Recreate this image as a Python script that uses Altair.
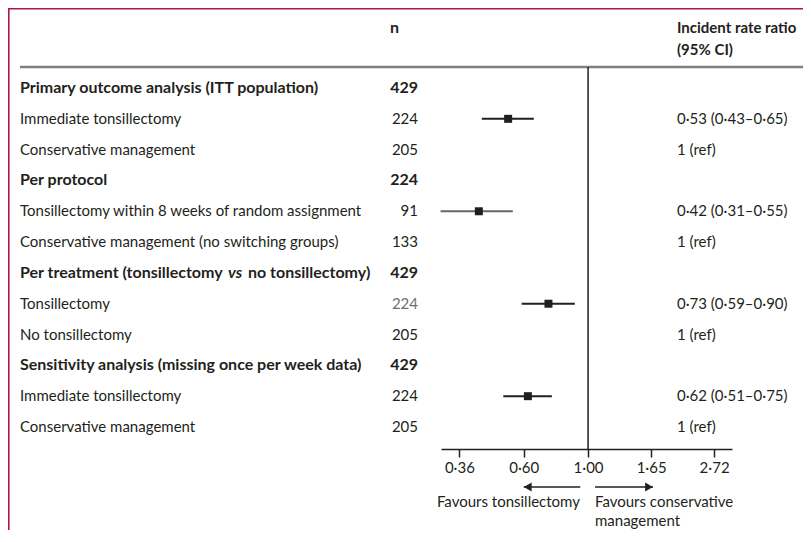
import altair as alt
import pandas as pd

# ---------------- data ----------------
labels = [
    "Primary outcome analysis (ITT population)",
    "Immediate tonsillectomy",
    "Conservative management",
    "Per protocol",
    "Tonsillectomy within 8 weeks of random assignment",
    "Conservative management (no switching groups)",
    "Per treatment (tonsillectomy vs no tonsillectomy)",
    "Tonsillectomy",
    "No tonsillectomy",
    "Sensitivity analysis (missing once per week data)",
    "Immediate tonsillectomy",
    "Conservative management",
]
# the one label with an italic "vs", drawn in three pieces
vs_row = 6
vs_parts = ["Per treatment (tonsillectomy", "vs", "no tonsillectomy)"]
n_values = [429, 224, 205, 224, 91, 133, 429, 224, 205, 429, 224, 205]
is_header = [1, 0, 0, 1, 0, 0, 1, 0, 0, 1, 0, 0]
irr_text = ["", "0·53 (0·43–0·65)", "1 (ref)", "", "0·42 (0·31–0·55)", "1 (ref)",
            "", "0·73 (0·59–0·90)", "1 (ref)", "", "0·62 (0·51–0·75)", "1 (ref)"]
estimate = [None, 0.53, None, None, 0.42, None, None, 0.73, None, None, 0.62, None]
ci_low = [None, 0.43, None, None, 0.31, None, None, 0.59, None, None, 0.51, None]
ci_high = [None, 0.65, None, None, 0.55, None, None, 0.90, None, None, 0.75, None]
tick_values = [0.36, 0.60, 1.00, 1.65, 2.72]
arrow_start = [0.94, 1.057]
arrow_end = [0.60, 1.675]

df = pd.DataFrame({
    "row": list(range(len(labels))),
    "label": labels,
    "n": n_values,
    "header": is_header,
    "irr": irr_text,
    "est": estimate,
    "lo": ci_low,
    "hi": ci_high,
})
forest = df.dropna(subset=["est"])

FONT = "Lato"
TXT = "#231f20"
FS = 15
FSB = 16

X_SCALE = alt.Scale(type="log", domain=[0.311, 3.136], range=[433, 724], nice=False)
Y_SCALE = alt.Scale(domain=[0, 11], range=[80, 419], nice=False, zero=False)
Y = alt.Y("row:Q", scale=Y_SCALE, axis=None)

base = alt.Chart(df)
bold_rows = base.transform_filter("datum.header == 1")
plain_rows = base.transform_filter("datum.header == 0")

label_bold = bold_rows.transform_filter(f"datum.row != {vs_row}").mark_text(
    align="left", baseline="middle", font=FONT, fontSize=FSB, fontWeight="bold", color=TXT
).encode(x=alt.value(12), y=Y, text="label:N")

vs_df = pd.DataFrame({"row": [vs_row] * 3, "part": vs_parts, "idx": [0, 1, 2]})
vs_base = alt.Chart(vs_df)
vs_a = vs_base.transform_filter("datum.idx == 0").mark_text(
    align="left", baseline="middle", font=FONT, fontSize=FSB, fontWeight="bold", color=TXT
).encode(x=alt.value(12), y=Y, text="part:N")
vs_b = vs_base.transform_filter("datum.idx == 1").mark_text(
    align="left", baseline="middle", font=FONT, fontSize=FSB, fontWeight="bold",
    fontStyle="italic", color=TXT
).encode(x=alt.value(220), y=Y, text="part:N")
vs_c = vs_base.transform_filter("datum.idx == 2").mark_text(
    align="left", baseline="middle", font=FONT, fontSize=FSB, fontWeight="bold", color=TXT
).encode(x=alt.value(240), y=Y, text="part:N")

label_plain = plain_rows.mark_text(align="left", baseline="middle", font=FONT, fontSize=FS,
                                   color=TXT).encode(x=alt.value(12), y=Y, text="label:N")

n_bold = bold_rows.mark_text(align="right", baseline="middle", font=FONT, fontSize=FSB,
                             fontWeight="bold", color=TXT).encode(x=alt.value(410), y=Y, text="n:Q")
n_plain = plain_rows.mark_text(align="right", baseline="middle", font=FONT, fontSize=FS).encode(
    x=alt.value(410), y=Y, text="n:Q",
    color=alt.condition("datum.row == 7", alt.value("#6d6e71"), alt.value(TXT)),
)

irr = base.mark_text(align="left", baseline="middle", font=FONT, fontSize=FS, color=TXT).encode(
    x=alt.value(669), y=Y, text="irr:N",
)

ci = alt.Chart(forest).mark_rule(strokeWidth=2).encode(
    x=alt.X("lo:Q", scale=X_SCALE, axis=alt.Axis(
        values=tick_values, title=None, grid=False, orient="bottom",
        labelExpr="replace(format(datum.value, '.2f'), '.', '·')",
        domainColor=TXT, domainWidth=1.5, tickColor=TXT, tickWidth=1.5, tickSize=8,
        labelFont=FONT, labelFontSize=FS, labelColor=TXT, labelPadding=3,
    )),
    x2="hi:Q", y=Y,
    color=alt.condition("datum.row == 4", alt.value("#666666"), alt.value(TXT)),
)

squares = alt.Chart(forest).mark_square(size=64, opacity=1, color=TXT).encode(
    x=alt.X("est:Q", scale=X_SCALE), y=Y,
)

ref_line = alt.Chart(pd.DataFrame({"v": [1.0]})).mark_rule(strokeWidth=1.5, color=TXT).encode(
    x=alt.X("v:Q", scale=X_SCALE), y=alt.value(59), y2=alt.value(441),
)

one = pd.DataFrame({"a": [0]})
header_rule = alt.Chart(one).mark_rule(strokeWidth=2.5, color="#808080").encode(
    x=alt.value(12), x2=alt.value(795), y=alt.value(59),
)

border_top = alt.Chart(one).mark_rule(strokeWidth=1.6, color="#b0163f").encode(
    x=alt.value(0), x2=alt.value(795), y=alt.value(0.8),
)
border_left = alt.Chart(one).mark_rule(strokeWidth=1.6, color="#b0163f").encode(
    x=alt.value(0.8), y=alt.value(0), y2=alt.value(530),
)

h_n = alt.Chart(one).mark_text(align="left", baseline="middle", font=FONT, fontSize=FSB,
                              fontWeight="bold", color=TXT, text="n").encode(x=alt.value(382), y=alt.value(20))
h_irr1 = alt.Chart(one).mark_text(align="left", baseline="middle", font=FONT, fontSize=FS,
                                 fontWeight="bold", color=TXT, text="Incident rate ratio").encode(x=alt.value(669), y=alt.value(20))
h_irr2 = alt.Chart(one).mark_text(align="left", baseline="middle", font=FONT, fontSize=FS,
                                 fontWeight="bold", color=TXT, text="(95% CI)").encode(x=alt.value(669), y=alt.value(42))

arr = pd.DataFrame({"start": arrow_start, "end": arrow_end, "side": ["left", "right"]})
arrow_lines = alt.Chart(arr).mark_rule(strokeWidth=1.5, color=TXT).encode(
    x=alt.X("start:Q", scale=X_SCALE), x2="end:Q", y=alt.value(479),
)
arrow_left = alt.Chart(arr).transform_filter("datum.side == 'left'").mark_point(
    shape="triangle-left", filled=True, size=80, opacity=1, color=TXT, xOffset=4).encode(
    x=alt.X("end:Q", scale=X_SCALE), y=alt.value(479))
arrow_right = alt.Chart(arr).transform_filter("datum.side == 'right'").mark_point(
    shape="triangle-right", filled=True, size=80, opacity=1, color=TXT, xOffset=-4).encode(
    x=alt.X("end:Q", scale=X_SCALE), y=alt.value(479))

fav_left = alt.Chart(one).mark_text(align="right", baseline="middle", font=FONT, fontSize=FS,
                                   color=TXT, text="Favours tonsillectomy").encode(x=alt.value(572), y=alt.value(494))
fav_right1 = alt.Chart(one).mark_text(align="left", baseline="middle", font=FONT, fontSize=FS,
                                     color=TXT, text="Favours conservative").encode(x=alt.value(587), y=alt.value(494))
fav_right2 = alt.Chart(one).mark_text(align="left", baseline="middle", font=FONT, fontSize=FS,
                                     color=TXT, text="management").encode(x=alt.value(587), y=alt.value(513))

chart = alt.layer(
    border_top, border_left, header_rule, ref_line, ci, squares,
    label_bold, vs_a, vs_b, vs_c, label_plain, n_bold, n_plain, irr, h_n, h_irr1, h_irr2,
    arrow_lines, arrow_left, arrow_right, fav_left, fav_right1, fav_right2,
).properties(
    width=795, height=441,
    autosize=alt.AutoSizeParams(type="none"),
    padding={"left": 0, "top": 0, "right": 0, "bottom": 81},
    background="white",
).configure_view(strokeWidth=0)

chart.save("out.html", embed_options={"renderer": "svg", "actions": False})
